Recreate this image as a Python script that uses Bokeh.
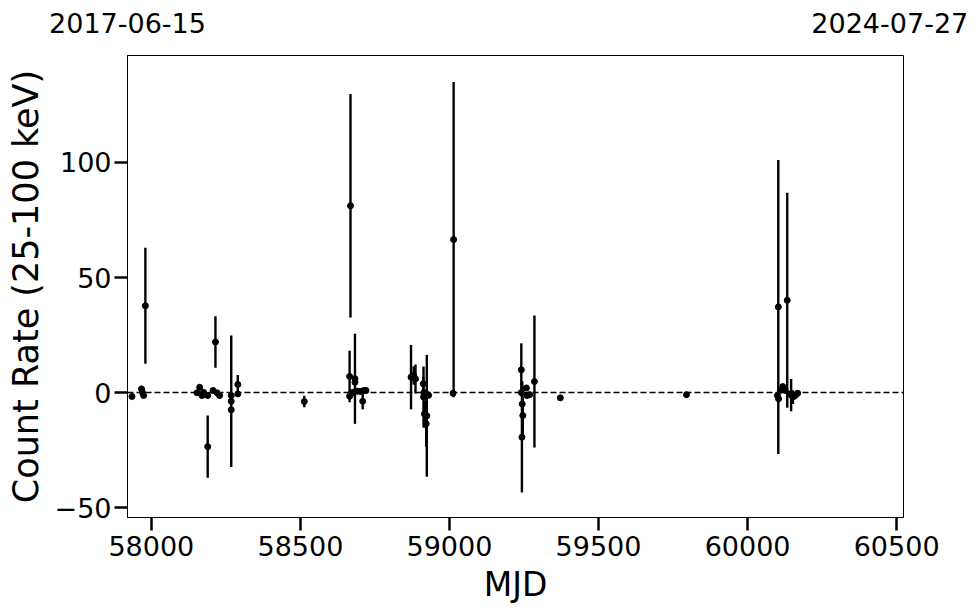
from bokeh.plotting import figure
from bokeh.models import ColumnDataSource, Range1d, Span, FixedTicker, LinearAxis
from bokeh.embed import file_html
from bokeh.resources import INLINE

# Observations: MJD, count rate (25-100 keV), 1-sigma error
mjd = [57935, 57967, 57970, 57974, 57980,
       58153, 58162, 58170, 58175, 58189, 58189, 58207, 58215, 58220, 58229,
       58268, 58268, 58268, 58290, 58290,
       58513,
       58665, 58665, 58668, 58683, 58683, 58670, 58678, 58690, 58700, 58712, 58709, 58720,
       58871, 58880, 58886, 58912, 58913, 58914, 58916, 58922, 58924, 58925, 58930,
       59014, 59012,
       59241, 59243, 59241, 59244, 59246, 59258, 59260, 59269, 59285, 59372,
       59795,
       60103, 60100, 60104, 60110, 60118, 60126, 60133, 60143, 60146, 60152, 60160, 60168]
rate = [-1.7, 1.6, 0.1, -1.3, 37.7,
        -0.1, 2.3, -1.3, 0.1, -1.3, -23.5, 0.9, 22.0, -0.1, -1.3,
        -1.3, -3.8, -7.5, 3.5, -0.6,
        -3.9,
        7.0, -1.6, 81.2, 6.0, 4.5, -0.5, 0.2, 0.6, 0.5, 0.9, -3.8, 0.9,
        6.7, 7.4, 5.9, 3.8, -1.9, 0.0, -9.3, -13.6, -10.1, -0.8, -1.2,
        66.5, -0.3,
        9.9, -19.4, 0.0, -5.0, -10.0, 2.0, -1.3, -0.9, 4.8, -2.3,
        -0.9,
        37.2, -1.3, -2.7, 0.9, 2.6, 0.9, 40.1, -0.6, -1.1, -2.0, -1.3, -0.3]
err = [0.8, 1.2, 0.8, 0.8, 25.2,
       0.8, 1.0, 0.8, 0.8, 0.8, 13.5, 0.8, 11.2, 0.8, 0.8,
       0.8, 28.6, 1.0, 4.1, 0.8,
       2.5,
       11.2, 1.5, 48.6, 19.6, 1.5, 1.0, 1.0, 0.8, 0.8, 0.8, 3.5, 0.8,
       14.0, 4.0, 6.3, 3.0, 13.2, 1.0, 6.0, 10.0, 26.5, 1.0, 1.0,
       68.5, 1.5,
       11.5, 24.0, 1.0, 10.0, 8.0, 1.0, 1.0, 1.0, 28.7, 1.0,
       0.8,
       63.9, 1.5, 1.5, 1.0, 1.0, 1.0, 46.7, 1.0, 7.0, 3.0, 1.0, 1.0]

x_ticks = [58000, 58500, 59000, 59500, 60000, 60500]
y_ticks = [-50, 0, 50, 100]
date_labels = ["2017-06-15", "2024-07-27"]
date_label_mjd = [57920, 60477]

lo = [r - e for r, e in zip(rate, err)]
hi = [r + e for r, e in zip(rate, err)]
src = ColumnDataSource(dict(x=mjd, y=rate, lo=lo, hi=hi))

FONT = "DejaVu Sans"

p = figure(frame_width=776, frame_height=462,
           x_range=Range1d(57920, 60523), y_range=Range1d(-54.3, 146.5),
           output_backend="svg", toolbar_location=None,
           min_border_left=127, min_border_right=69,
           min_border_top=55, min_border_bottom=88,
           background_fill_color="white", border_fill_color="white")

p.add_layout(Span(location=0, dimension="width", line_color="black",
                  line_width=1.6, line_dash="6 3"))
p.segment(x0="x", y0="lo", x1="x", y1="hi", source=src,
          line_color="black", line_width=2.4)
p.scatter("x", "y", source=src, size=6, color="black")

p.xgrid.visible = False
p.ygrid.visible = False
p.outline_line_color = "black"
p.outline_line_width = 1
p.outline_line_alpha = 1

for ax in (p.xaxis[0], p.yaxis[0]):
    ax.major_tick_out = 13
    ax.major_tick_in = 0
    ax.major_tick_line_width = 2.5
    ax.major_tick_line_color = "black"
    ax.minor_tick_out = 0
    ax.minor_tick_in = 0
    ax.axis_line_color = "black"
    ax.axis_line_width = 1
    ax.major_label_text_font = FONT
    ax.major_label_text_font_size = "27px"
    ax.major_label_text_color = "black"
    ax.axis_label_text_font = FONT
    ax.axis_label_text_font_style = "normal"
    ax.axis_label_text_color = "black"

p.xaxis.ticker = FixedTicker(ticks=x_ticks)
p.yaxis.ticker = FixedTicker(ticks=y_ticks)
p.yaxis.major_label_overrides = {-50: "\u221250"}
p.xaxis.major_label_standoff = 5
p.yaxis.major_label_standoff = 3
p.xaxis.axis_label = "MJD"
p.xaxis.axis_label_text_font_size = "33px"
p.xaxis.axis_label_standoff = 6
p.yaxis.axis_label = "Count Rate (25-100 keV)"
p.yaxis.axis_label_text_font_size = "35px"
p.yaxis.axis_label_standoff = 6

# top axis carrying the start / end dates
top = LinearAxis(ticker=FixedTicker(ticks=date_label_mjd),
                 major_label_overrides=dict(zip(date_label_mjd, date_labels)))
top.axis_line_color = None
top.major_tick_line_color = None
top.minor_tick_line_color = None
top.major_label_standoff = 17
top.major_label_text_font = FONT
top.major_label_text_font_size = "27px"
top.major_label_text_color = "black"
p.add_layout(top, "above")

open("out.html", "w").write(file_html(p, INLINE))
